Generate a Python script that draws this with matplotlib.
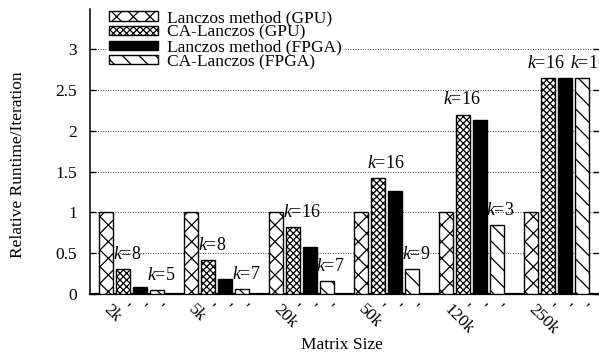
import matplotlib
matplotlib.use("Agg")
import matplotlib.pyplot as plt
import numpy as np

plt.rcParams['font.family'] = ['Liberation Serif', 'DejaVu Serif']
plt.rcParams['mathtext.fontset'] = 'custom'
plt.rcParams['mathtext.rm'] = 'Liberation Serif'
plt.rcParams['mathtext.it'] = 'Liberation Serif:italic'
plt.rcParams['hatch.linewidth'] = 0.9

sizes = ["2k", "5k", "20k", "50k", "120k", "250k"]
series = ["Lanczos method (GPU)", "CA-Lanczos (GPU)", "Lanczos method (FPGA)", "CA-Lanczos (FPGA)"]
lanczos_gpu = [1.0, 1.0, 1.0, 1.0, 1.0, 1.0]
ca_gpu = [0.30, 0.41, 0.82, 1.42, 2.20, 2.65]
lanczos_fpga = [0.08, 0.18, 0.57, 1.26, 2.13, 2.65]
ca_fpga = [0.04, 0.06, 0.155, 0.30, 0.84, 2.65]
k_gpu = [8, 8, 16, 16, 16, 16]
k_fpga = [5, 7, 7, 9, 3, 16]

# label horizontal offsets (in bar slots) relative to the bar centre
gpu_dx = [-0.6, -0.6, -0.6, -0.65, -1.2, -1.25]
fpga_dx = [-0.6, -0.6, -0.65, -0.6, -0.65, -0.7]

fills = ['white', 'white', 'black', 'white']
hatches = ['xx', 'xxxxx', None, '\\\\']
data = [lanczos_gpu, ca_gpu, lanczos_fpga, ca_fpga]

fig = plt.figure(figsize=(5.99, 3.58), dpi=100)
ax = fig.add_axes([90/599, 64.3/358, 509/599, 285/358])

group = np.arange(len(sizes)) * 5
for b in range(4):
    ax.bar(group + b, data[b], width=0.82, color=fills[b], edgecolor='black',
           hatch=hatches[b], linewidth=1.0, label=series[b], zorder=3)

for g in range(len(sizes)):
    ax.text(group[g] + 1 + gpu_dx[g], ca_gpu[g] + 0.18, r'$k$=%d' % k_gpu[g],
            ha='left', va='center', fontsize=13, zorder=4, clip_on=False)
    ax.text(group[g] + 3 + fpga_dx[g], ca_fpga[g] + 0.18, r'$k$=%d' % k_fpga[g],
            ha='left', va='center', fontsize=13, zorder=4, clip_on=False)

ax.set_xlim(-0.94, 29.0)
ax.set_ylim(0, 3.5)
yt = [0, 0.5, 1, 1.5, 2, 2.5, 3]
ax.set_yticks(yt)
ax.set_yticklabels(['0', '0.5', '1', '1.5', '2', '2.5', '3'], fontsize=12.5)
for v in yt[1:]:
    ax.axhline(v, color='black', linestyle=(0, (1, 2)), linewidth=0.6, zorder=1)

xt = []
xl = []
for g in range(len(sizes)):
    for b in range(4):
        xt.append(group[g] + b)
        xl.append(sizes[g] if b == 0 else "'")
ax.set_xticks(xt)
ax.set_xticklabels(xl, rotation=-45, ha='left', va='center', rotation_mode='anchor', fontsize=12.5)
ax.tick_params(axis='x', length=0, pad=10)
ax.tick_params(axis='y', direction='in', length=4, width=1.0, right=True, pad=9.5)

ax.spines['top'].set_visible(False)
ax.spines['right'].set_visible(False)
ax.spines['left'].set_linewidth(1.1)
ax.spines['bottom'].set_linewidth(1.6)

ax.set_ylabel('Relative Runtime/Iteration', fontsize=12.5)
ax.yaxis.set_label_coords(-0.125, 0.452)
ax.set_xlabel('Matrix Size', fontsize=12.5)
ax.xaxis.set_label_coords(0.495, -0.152)

leg = ax.legend(loc='upper left', bbox_to_anchor=(0.033, 1.004), frameon=True, fontsize=12.5,
                handlelength=2.8, handleheight=0.45, labelspacing=-0.08, handletextpad=0.5,
                borderpad=0.15, borderaxespad=0.0, fancybox=False)
leg.get_frame().set_edgecolor('none')
leg.get_frame().set_facecolor('white')
leg.get_frame().set_alpha(1.0)
leg.set_zorder(5)

fig.savefig('out.png', dpi=100)
